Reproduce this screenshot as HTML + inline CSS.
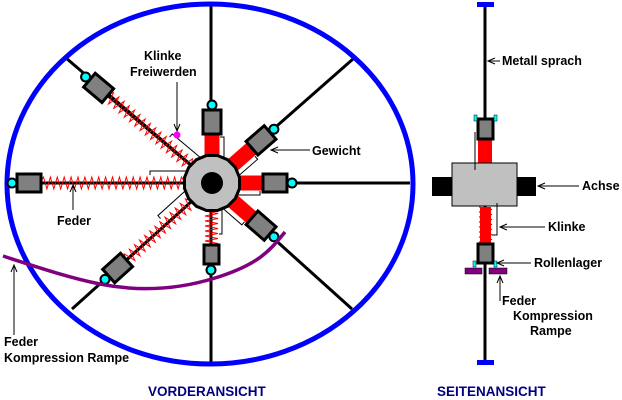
<!DOCTYPE html>
<html><head><style>
html,body{margin:0;padding:0;background:#fff;}
svg{display:block;}
text{font-family:"Liberation Sans",Arial,sans-serif;font-weight:bold;font-size:12.5px;fill:#000;}
</style></head><body>
<svg id="s" width="622" height="400" viewBox="0 0 622 400" xmlns="http://www.w3.org/2000/svg">
<g stroke="#000" stroke-width="3" fill="none">
<line x1="211" y1="3" x2="211" y2="364"/>
<line x1="212" y1="183" x2="410" y2="183"/>
<line x1="212" y1="183" x2="8" y2="183"/>
<line x1="212" y1="183" x2="353" y2="59"/>
<line x1="212" y1="183" x2="352" y2="309"/>
<line x1="212" y1="183" x2="66" y2="58"/>
<line x1="212" y1="183" x2="72" y2="309"/>
</g>
<ellipse cx="210" cy="184" rx="203" ry="180" fill="none" stroke="#0000ff" stroke-width="5"/>
<g id="front"></g>
<path d="M3,256 C40,268 70,278 100,284 S170,292 215,278 S270,250 285,232" fill="none" stroke="#800080" stroke-width="3.5"/>
<circle cx="177" cy="135" r="3.5" fill="#ff00ff"/>
<polygon id="hub" fill="#c0c0c0" stroke="#000" stroke-width="3"/>
<circle cx="212" cy="183" r="11" fill="#000"/>
<g>
<line x1="485" y1="4" x2="485" y2="364" stroke="#000" stroke-width="3"/>
<rect x="477" y="2" width="17" height="5" fill="#0000ff"/>
<rect x="477" y="360" width="17" height="5" fill="#0000ff"/>
<rect x="478" y="139" width="14" height="25" fill="#ff0000"/>
<rect x="478" y="119" width="15" height="20" fill="#808080" stroke="#000" stroke-width="3"/>
<rect x="474" y="115" width="3" height="6" fill="#00ffff" stroke="#000" stroke-width="0.5"/>
<rect x="494" y="115" width="3" height="6" fill="#00ffff" stroke="#000" stroke-width="0.5"/>
<rect x="432" y="177" width="21" height="19" fill="#000"/>
<rect x="516" y="177" width="20" height="19" fill="#000"/>
<rect x="452" y="163" width="65" height="43" fill="#c0c0c0" stroke="#000" stroke-width="1"/>
<g id="sidespring"></g>
<rect x="478" y="244" width="15" height="19" fill="#808080" stroke="#000" stroke-width="3"/>
<rect x="473" y="261" width="3" height="6" fill="#00ffff" stroke="#000" stroke-width="0.5"/>
<rect x="494" y="261" width="3" height="6" fill="#00ffff" stroke="#000" stroke-width="0.5"/>
<rect x="465" y="268" width="17" height="6" fill="#800080" stroke="#000" stroke-width="0.5"/>
<rect x="489" y="268" width="18" height="6" fill="#800080" stroke="#000" stroke-width="0.5"/>
<polyline points="475,132 475,170" fill="none" stroke="#000" stroke-width="1"/>
<polyline points="497,203 497,235 492,235" fill="none" stroke="#000" stroke-width="1"/>
</g>
<g stroke="#000" stroke-width="1" fill="none">
<line x1="177" y1="82" x2="177" y2="131"/><path d="M174,124 L177,131 L180,124"/>
<line x1="310" y1="150" x2="271" y2="150"/><path d="M278,147 L271,150 L278,153"/>
<line x1="73" y1="210" x2="73" y2="185"/><path d="M70,192 L73,185 L76,192"/>
<line x1="14" y1="335" x2="14" y2="265"/><path d="M11,272 L14,265 L17,272"/>
<line x1="500" y1="61" x2="488" y2="61"/><path d="M495,58 L488,61 L495,64"/>
<line x1="579" y1="186" x2="538" y2="186"/><path d="M545,183 L538,186 L545,189"/>
<line x1="545" y1="227" x2="500" y2="227"/><path d="M507,224 L500,227 L507,230"/>
<line x1="531" y1="263" x2="497" y2="263"/><path d="M504,260 L497,263 L504,266"/>
<polyline points="500,301 500,276"/><path d="M497,283 L500,276 L503,283"/>
</g>
<text x="144" y="60">Klinke</text>
<text x="130" y="76">Freiwerden</text>
<text x="312" y="155">Gewicht</text>
<text x="57" y="225">Feder</text>
<text x="4" y="346">Feder</text>
<text x="4" y="362">Kompression Rampe</text>
<text x="148" y="396" style="fill:#000080;font-size:13.5px">VORDERANSICHT</text>
<text x="437" y="396" style="fill:#000080;font-size:13.5px">SEITENANSICHT</text>
<text x="502" y="65">Metall sprach</text>
<text x="582" y="190">Achse</text>
<text x="548" y="231">Klinke</text>
<text x="534" y="267">Rollenlager</text>
<text x="502" y="305">Feder</text>
<text x="513" y="320">Kompression</text>
<text x="530" y="335">Rampe</text>
</svg>
<script>
var NS="http://www.w3.org/2000/svg",cx=212,cy=183;
var g=document.getElementById('front');
function el(t,a,p){var e=document.createElementNS(NS,t);for(var k in a)e.setAttribute(k,a[k]);(p||g).appendChild(e);return e;}
var pts=[];for(var i=0;i<16;i++){var a=i*Math.PI/8+Math.PI/16;pts.push((cx+28*Math.cos(a)).toFixed(1)+","+(cy+28*Math.sin(a)).toFixed(1));}
document.getElementById('hub').setAttribute('points',pts.join(' '));
function arm(angDeg,dist,extended){
 var a=angDeg*Math.PI/180,ux=Math.cos(a),uy=Math.sin(a),px=-uy,py=ux;
 var bx=cx+ux*dist,by=cy+uy*dist;
 var s0=27,s1=dist-11;
 if(extended){
  var d="";var n=Math.round((s1-s0)/7);
  for(var i=0;i<=n*2;i++){var t=s0+(s1-s0)*i/(n*2);var o=(i%2?6:-6);if(i==0||i==n*2)o=0;
   d+=(i?"L":"M")+(cx+ux*t+px*o).toFixed(1)+","+(cy+uy*t+py*o).toFixed(1);}
  el('line',{x1:cx+ux*s0,y1:cy+uy*s0,x2:cx+ux*s1,y2:cy+uy*s1,stroke:'#000','stroke-width':3});
  el('path',{d:d,fill:'none',stroke:'#ff0000','stroke-width':1});
 }else{
  el('line',{x1:cx+ux*s0,y1:cy+uy*s0,x2:cx+ux*s1,y2:cy+uy*s1,stroke:'#ff0000','stroke-width':15});
 }
 var w=24,h=18;
 el('rect',{x:bx-w/2,y:by-h/2,width:w,height:h,fill:'#808080',stroke:'#000','stroke-width':3,transform:'rotate('+angDeg+' '+bx+' '+by+')'});
 var dx=bx+ux*17,dy=by+uy*17;
 el('circle',{cx:dx,cy:dy,r:4.5,fill:'#00ffff',stroke:'#000','stroke-width':2});
 var o=12,e=extended?62:s1-4;
 el('polyline',{points:[cx+ux*22+px*o,cy+uy*22+py*o,cx+ux*e+px*o,cy+uy*e+py*o,cx+ux*e+px*(o-4),cy+uy*e+py*(o-4)].join(' '),fill:'none',stroke:'#000','stroke-width':1});
}
arm(-90,61,false);arm(-41,65,false);arm(0,63,false);arm(41,65,false);
(function(){var d="";for(var y=211,i=0;y<=244;y+=2.5,i++){d+=(i?"L":"M")+(i%2?218:205)+","+y;}
el('path',{d:d,fill:'none',stroke:'#ff0000','stroke-width':1});
el('rect',{x:204,y:245,width:15,height:19,fill:'#808080',stroke:'#000','stroke-width':3});
el('circle',{cx:211,cy:270,r:4.5,fill:'#00ffff',stroke:'#000','stroke-width':2});
el('polyline',{points:'219,205 222,205 222,234 219,234',fill:'none',stroke:'#000','stroke-width':1});})();
arm(-140,148,true);arm(180,183,true);arm(138,127,true);
(function(){var d="";for(var y=207,i=0;y<=243;y+=2.5,i++){d+=(i?"L":"M")+(i%2?492:479)+","+y;}
el('rect',{x:480,y:207,width:11,height:36,fill:'#ff0000'},document.getElementById('sidespring'));
el('path',{d:d,fill:'none',stroke:'#ff0000','stroke-width':1},document.getElementById('sidespring'));})();
</script>
</body></html>
